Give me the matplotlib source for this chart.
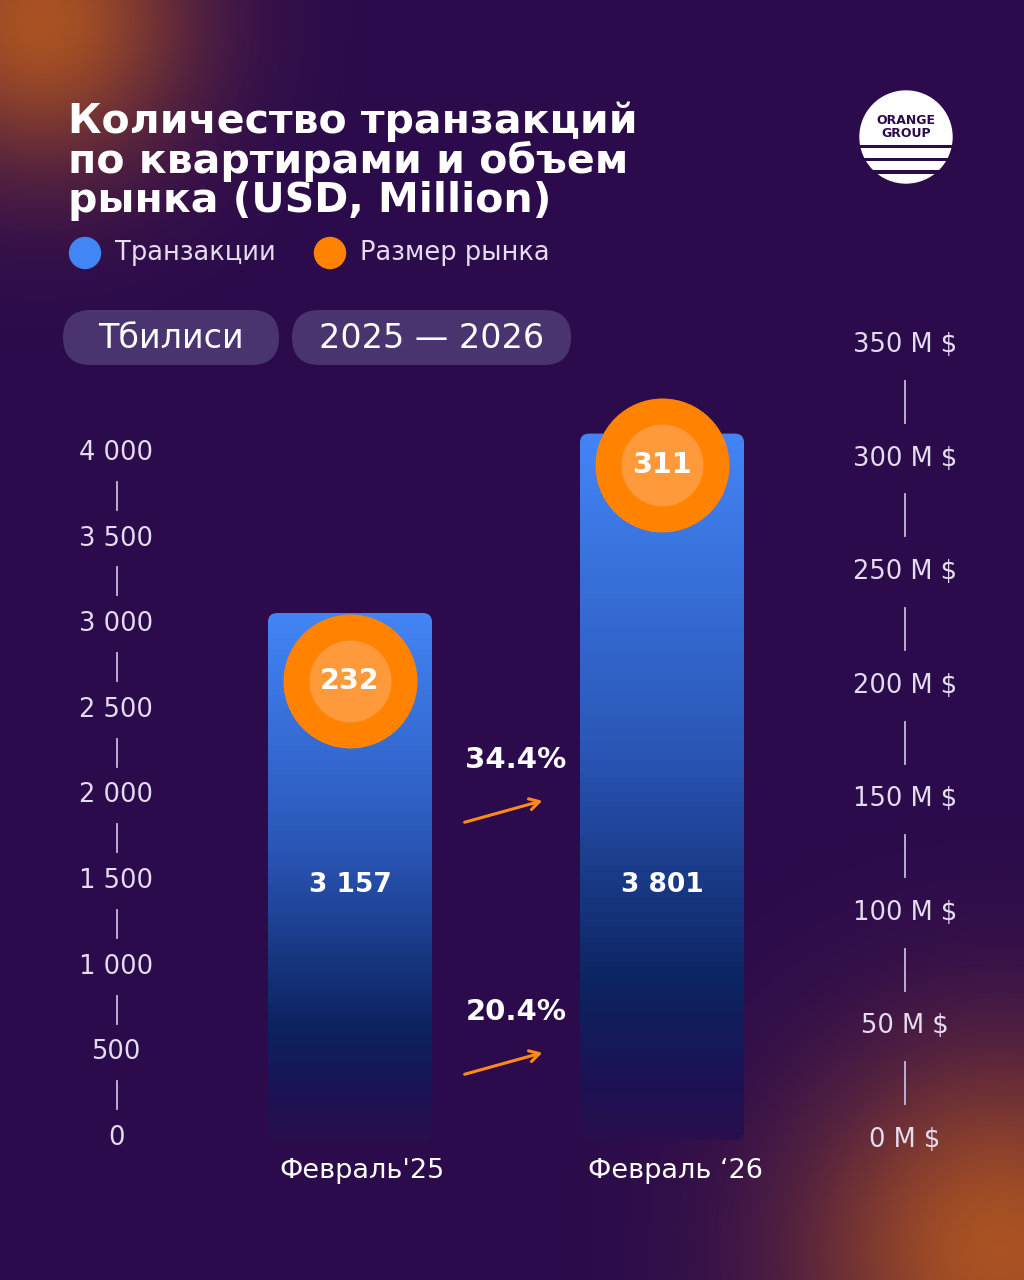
import numpy as np
import matplotlib
matplotlib.use("Agg")
import matplotlib.pyplot as plt
from matplotlib.patches import FancyBboxPatch, Circle, Rectangle
from matplotlib.colors import LinearSegmentedColormap, to_rgb
import matplotlib.transforms as mtrans

# ---------------- data ----------------
periods = ["Февраль'25", "Февраль \u201826"]
transactions = [3157, 3801]
market_size = [232, 311]          # USD, million
growth_labels = ["34.4%", "20.4%"]  # market size growth, transactions growth
left_ticks = [0, 500, 1000, 1500, 2000, 2500, 3000, 3500, 4000]
right_ticks = [0, 50, 100, 150, 200, 250, 300, 350]
title_lines = ["Количество транзакций", "по квартирами и объем", "рынка (USD, Million)"]
legend_labels = ["Транзакции", "Размер рынка"]
pill_labels = ["Тбилиси", "2025 \u2014 2026"]

# ---------------- style ----------------
W, H = 1024, 1280
BG = "#2b0b4c"
BLUE = "#4285f4"
ORANGE = "#ff8200"
ORANGE_IN = "#ff9a3c"
LABEL = "#e6dcef"
SEP = "#c9b9dd"
FONT = "DejaVu Sans"

fig = plt.figure(figsize=(W / 100, H / 100), dpi=100)
fig.patch.set_facecolor(BG)

def fx(px):
    return px / W

def fy(py):
    return 1 - py / H

# background with glows
bg_ax = fig.add_axes([0, 0, 1, 1])
bg_ax.set_xlim(0, W)
bg_ax.set_ylim(H, 0)
bg_ax.axis("off")
yy, xx = np.mgrid[0:H, 0:W]
base = np.array(to_rgb(BG))
img = np.ones((H, W, 3)) * base
def glow(cx, cy, sig, col, amp):
    global img
    w = amp * np.exp(-((xx - cx) ** 2 + (yy - cy) ** 2) / (2 * sig ** 2))
    c = np.array(to_rgb(col))
    img = img * (1 - w[..., None]) + c * w[..., None]
glow(40, 20, 105, "#b85a1e", 0.9)
glow(1000, 1250, 140, "#b85a1e", 0.9)
bg_ax.imshow(np.clip(img, 0, 1), extent=(0, W, H, 0), aspect="auto", zorder=0)

# ---------------- title ----------------
fig.text(fx(68), fy(101), "\n".join(title_lines), color="white", fontsize=29.5,
         fontweight="bold", family=FONT, va="top", ha="left", linespacing=0.97)

# legend
leg_x = [85, 330]
leg_cols = [BLUE, ORANGE]
for x, c, lab in zip(leg_x, leg_cols, legend_labels):
    bg_ax.add_patch(Circle((x, 253), 15.5, color=c, zorder=3))
    bg_ax.text(x + 30, 253, lab, color=LABEL, fontsize=18.5, family=FONT,
               va="center", ha="left", zorder=3)

# pills
pill_boxes = [(63, 279), (292, 571)]
for (x0, x1), lab in zip(pill_boxes, pill_labels):
    p = FancyBboxPatch((x0, 310), x1 - x0, 55,
                       boxstyle="round,pad=0,rounding_size=27.5",
                       fc="#4a3470", ec="none", zorder=3)
    bg_ax.add_patch(p)
    bg_ax.text((x0 + x1) / 2, 338, lab, color="white", fontsize=24, family=FONT,
               va="center", ha="center", zorder=4)

# logo
bg_ax.add_patch(Circle((906, 137), 46, color="white", zorder=3))
bg_ax.text(906, 127, "ORANGE\nGROUP", color=BG, fontsize=9, fontweight="bold",
           family=FONT, ha="center", va="center", zorder=4, linespacing=0.95)
for y0 in [144.5, 157.5, 170]:
    bg_ax.add_patch(Rectangle((855, y0), 102, 3.8, color=BG, zorder=4, lw=0))

# ---------------- main chart ----------------
ax_left, ax_bottom, ax_right, ax_top = 190, 1140, 830, 345
ax = fig.add_axes([fx(ax_left), fy(ax_bottom), (ax_right - ax_left) / W,
                   (ax_bottom - ax_top) / H])
ax.patch.set_alpha(0)
ax.axis("off")
unit_x = 312.0
ax.set_xlim(-(350 - ax_left) / unit_x, (ax_right - 350) / unit_x)
ax.set_ylim(0, 350)
px_per_unit_y = (ax_bottom - ax_top) / 350

ax2 = ax.twinx()
ax2.axis("off")
lp = 685 / 4000.0
ax2.set_ylim(-(ax_bottom - 1138) / lp, (1138 - ax_top) / lp)

x = np.arange(len(periods))
bar_w = 164 / unit_x
bars = ax.bar(x, market_size, width=bar_w, color="none", zorder=2)

cmap = LinearSegmentedColormap.from_list(
    "barg", [(0.0, "#2a0f4c"), (0.08, "#1c1254"), (0.22, "#0c2360"),
             (0.55, "#2a56b6"), (1.0, "#4385f6")])
grad = np.linspace(0, 1, 256).reshape(-1, 1)
r_px = 9
for rect in bars:
    x0, w, h = rect.get_x(), rect.get_width(), rect.get_height()
    clip = FancyBboxPatch((x0, 0), w, h,
                          boxstyle=f"round,pad=0,rounding_size={r_px / unit_x}",
                          mutation_aspect=(r_px / px_per_unit_y) / (r_px / unit_x),
                          transform=ax.transData, fc="none", ec="none")
    ax.add_patch(clip)
    im = ax.imshow(grad, extent=(x0, x0 + w, 0, h), origin="lower", cmap=cmap,
                   aspect="auto", zorder=2)
    im.set_clip_path(clip)
ax.set_xlim(-(350 - ax_left) / unit_x, (ax_right - 350) / unit_x)
ax.set_ylim(0, 350)

# transaction value labels inside bars
tb = mtrans.blended_transform_factory(ax.transData, ax.transAxes)
for xi, t in zip(x, transactions):
    ax.text(xi, (ax_bottom - 885) / (ax_bottom - ax_top),
            f"{t:,}".replace(",", " "), transform=tb, color="white",
            fontsize=19, fontweight="bold", family=FONT, ha="center",
            va="center", zorder=5)

# market size circles
circle_drop_px = [68, 31]
for xi, m, d in zip(x, market_size, circle_drop_px):
    tr = mtrans.offset_copy(ax.transData, fig=fig, y=-d * 0.72, units="points")
    ax.plot([xi], [m], marker="o", ms=96.5, color=ORANGE, mec="none",
            transform=tr, zorder=6, clip_on=False)
    ax.plot([xi], [m], marker="o", ms=59, color=ORANGE_IN, mec="none",
            transform=tr, zorder=7, clip_on=False)
    ax.text(xi, m, str(m), transform=tr, color="white", fontsize=20.5,
            fontweight="bold", family=FONT, ha="center", va="center",
            zorder=8, clip_on=False)

# x labels
xb = mtrans.blended_transform_factory(ax.transData, fig.transFigure)
x_label_dx = [12 / unit_x, 13 / unit_x]
for xi, lab, dx in zip(x, periods, x_label_dx):
    ax.text(xi + dx, fy(1171), lab, transform=xb, color="white", fontsize=19.5,
            family=FONT, ha="center", va="center", clip_on=False)

# left axis labels + separators
lt = mtrans.blended_transform_factory(fig.transFigure, ax2.transData)
for v in left_ticks:
    ax2.text(fx(116), v, f"{v:,}".replace(",", " "),
             transform=lt, color=LABEL, fontsize=18.5, family=FONT,
             ha="center", va="center", clip_on=False)
half = 14 / lp
for a, b in zip(left_ticks[:-1], left_ticks[1:]):
    m = (a + b) / 2
    ax2.plot([fx(117), fx(117)], [m - half, m + half], transform=lt,
             color=SEP, lw=1.3, clip_on=False)

# right axis labels + separators
rt = mtrans.blended_transform_factory(fig.transFigure, ax.transData)
for v in right_ticks:
    ax.text(fx(905), v, f"{v} M $", transform=rt, color=LABEL, fontsize=18.5,
            family=FONT, ha="center", va="center", clip_on=False)
half_r = 21 / px_per_unit_y
for a, b in zip(right_ticks[:-1], right_ticks[1:]):
    m = (a + b) / 2
    ax.plot([fx(905), fx(905)], [m - half_r, m + half_r], transform=rt,
            color=SEP, lw=1.3, clip_on=False)

# growth annotations
growth_y = [760, 1012]
for lab, gy in zip(growth_labels, growth_y):
    bg_ax.text(516, gy, lab, color="white", fontsize=21, fontweight="bold",
               family=FONT, ha="center", va="center", zorder=5)
    bg_ax.annotate("", xy=(545, gy + 40), xytext=(462, gy + 63),
                   arrowprops=dict(arrowstyle="->,head_length=0.7,head_width=0.4",
                                   color="#ff8a1a", lw=2.2), zorder=5)

fig.savefig("out.png", dpi=100, facecolor=BG)
